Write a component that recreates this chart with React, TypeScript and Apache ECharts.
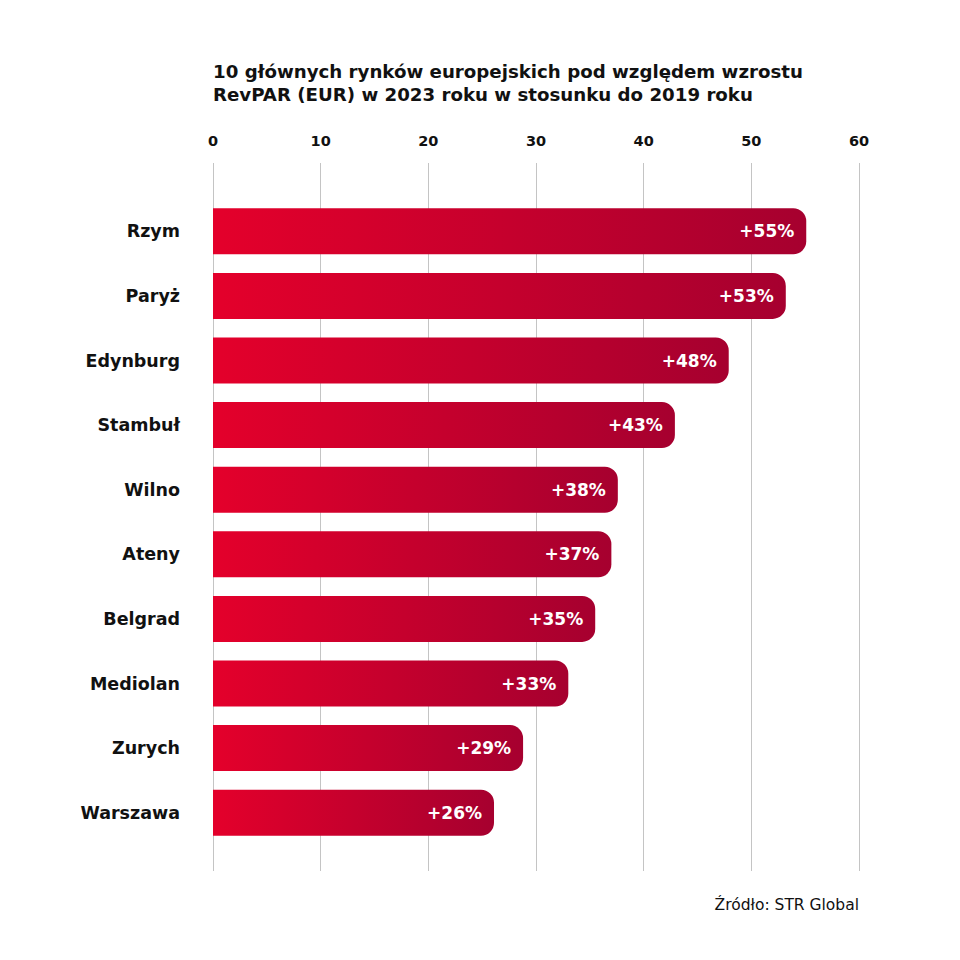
import React, { useEffect, useRef } from "react";
import * as echarts from "echarts";

const cities = [
  "Rzym",
  "Paryż",
  "Edynburg",
  "Stambuł",
  "Wilno",
  "Ateny",
  "Belgrad",
  "Mediolan",
  "Zurych",
  "Warszawa",
];
// bar lengths as drawn, and the rounded percentages printed on them
const growth = [55.1, 53.2, 47.9, 42.9, 37.6, 37.0, 35.5, 33.0, 28.8, 26.1];
const growthLabels = [55, 53, 48, 43, 38, 37, 35, 33, 29, 26];
const xTicks = [0, 10, 20, 30, 40, 50, 60];

const titleText =
  "10 głównych rynków europejskich pod względem wzrostu\nRevPAR (EUR) w 2023 roku w stosunku do 2019 roku";
const sourceText = "Źródło: STR Global";

const FONT = "'DejaVu Sans', 'Open Sans', sans-serif";

const App: React.FC = () => {
  const chartRef = useRef<HTMLDivElement>(null);

  useEffect(() => {
    document.body.style.margin = "0";
    if (!chartRef.current) return;
    const chart = echarts.init(chartRef.current, undefined, { renderer: "svg" });

    const option: echarts.EChartsOption = {
      animation: false,
      backgroundColor: "#ffffff",
      textStyle: { fontFamily: FONT },
      title: {
        text: titleText,
        left: 208,
        top: 55,
        textStyle: {
          fontFamily: FONT,
          fontSize: 18.2,
          fontWeight: 700,
          lineHeight: 23,
          color: "#111111",
        },
      },
      graphic: [
        {
          type: "text",
          right: 101,
          top: 897,
          style: {
            text: sourceText,
            fontFamily: FONT,
            fontSize: 15.5,
            fill: "#111111",
          },
        },
      ],
      grid: [
        { left: 213, width: 646, top: 163, height: 708 },
        { left: 213, width: 646, top: 199, height: 646 },
      ],
      xAxis: [
        {
          type: "value",
          gridIndex: 0,
          position: "top",
          min: 0,
          max: 60,
          interval: 10,
          axisLine: { show: false },
          axisTick: { show: false },
          axisLabel: {
            margin: 15,
            fontSize: 14.5,
            fontWeight: 700,
            color: "#111111",
            formatter: (v: number) => (xTicks.includes(v) ? String(v) : ""),
          },
          splitLine: { show: true, lineStyle: { color: "#c4c4c4", width: 1 } },
        },
        {
          type: "value",
          gridIndex: 1,
          min: 0,
          max: 60,
          show: false,
        },
      ],
      yAxis: [
        {
          type: "value",
          gridIndex: 0,
          min: 0,
          max: 1,
          show: false,
        },
        {
          type: "category",
          gridIndex: 1,
          data: cities,
          inverse: true,
          axisLine: { show: false },
          axisTick: { show: false },
          splitLine: { show: false },
          axisLabel: {
            margin: 33,
            fontSize: 17.5,
            fontWeight: 700,
            color: "#111111",
          },
        },
      ],
      series: [
        {
          type: "bar",
          xAxisIndex: 1,
          yAxisIndex: 1,
          data: growth,
          barWidth: 46,
          itemStyle: {
            borderRadius: [0, 13, 13, 0],
            color: new echarts.graphic.LinearGradient(0, 0, 1, 0, [
              { offset: 0, color: "#e4002b" },
              { offset: 1, color: "#a6002f" },
            ]),
          },
          label: {
            show: true,
            position: "insideRight",
            distance: 12,
            formatter: (p: any) => `+${growthLabels[p.dataIndex]}%`,
            fontSize: 17,
            fontWeight: 700,
            color: "#ffffff",
          },
        },
      ],
    };

    chart.setOption(option);
    return () => {
      chart.dispose();
    };
  }, []);

  return <div ref={chartRef} style={{ width: 960, height: 960 }} />;
};

export default App;
